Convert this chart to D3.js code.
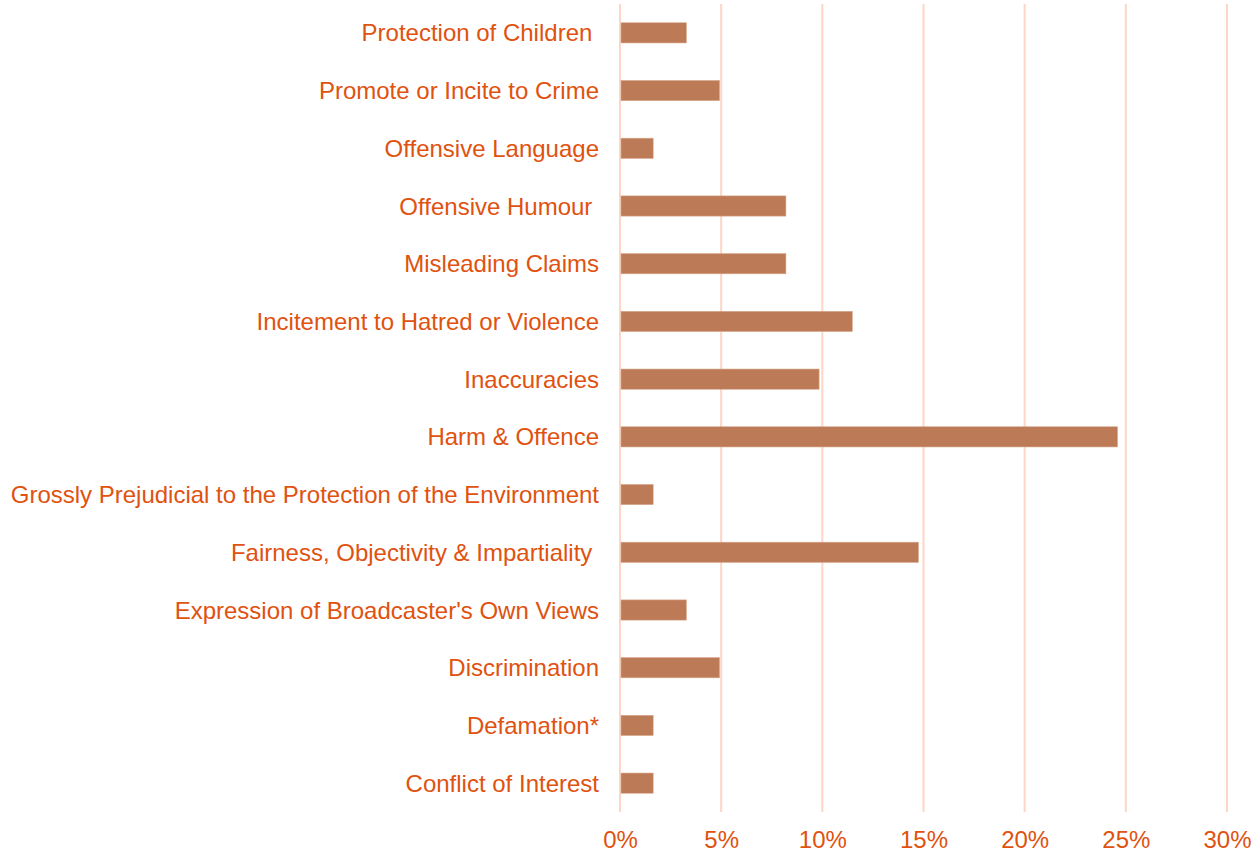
<!DOCTYPE html>
<html>
<head>
<meta charset="utf-8">
<script src="https://cdn.jsdelivr.net/npm/d3@7"></script>
<style>
  html, body { margin: 0; padding: 0; background: #ffffff; }
  svg { display: block; }
  text { font-family: "Liberation Sans", Arial, sans-serif; }
</style>
</head>
<body>
<svg id="chart" width="1253" height="852"></svg>
<script>
// Complaint categories, top to bottom
const categories = [
  "Protection of Children ",
  "Promote or Incite to Crime",
  "Offensive Language",
  "Offensive Humour ",
  "Misleading Claims",
  "Incitement to Hatred or Violence",
  "Inaccuracies",
  "Harm & Offence",
  "Grossly Prejudicial to the Protection of the Environment",
  "Fairness, Objectivity & Impartiality ",
  "Expression of Broadcaster's Own Views",
  "Discrimination",
  "Defamation*",
  "Conflict of Interest"
];

// Share of complaints (%)
const shares = [3.28, 4.92, 1.64, 8.20, 8.20, 11.48, 9.84, 24.59, 1.64, 14.75, 3.28, 4.92, 1.64, 1.64];

// Axis ticks (%)
const tickValues = [0, 5, 10, 15, 20, 25, 30];

const svg = d3.select("#chart");
const margin = { left: 620, right: 26, top: 4, bottom: 40 };
const width = 1253, height = 852;

const x = d3.scaleLinear()
  .domain([0, 30])
  .range([margin.left, width - margin.right]);

const y = d3.scaleBand()
  .domain(categories)
  .range([margin.top, height - margin.bottom])
  .paddingInner(0.65)
  .paddingOuter(0.325);

const textColor = "#e0520f";

// Vertical gridlines
svg.append("g")
  .selectAll("line")
  .data(tickValues)
  .join("line")
  .attr("x1", d => x(d))
  .attr("x2", d => x(d))
  .attr("y1", margin.top)
  .attr("y2", height - margin.bottom)
  .attr("stroke", "#fdd6c6")
  .attr("stroke-width", 2);

// Bars
svg.append("g")
  .selectAll("rect")
  .data(categories)
  .join("rect")
  .attr("x", x(0) + 1)
  .attr("y", d => y(d))
  .attr("width", (d, i) => x(shares[i]) - x(0) - 1)
  .attr("height", y.bandwidth())
  .attr("fill", "#bc7a56")
  .attr("stroke", "#d7a88c")
  .attr("stroke-width", 0.6);

// Category labels
const yAxis = d3.axisLeft(y).tickSize(0).tickPadding(21);
svg.append("g")
  .attr("transform", `translate(${margin.left},0)`)
  .call(yAxis)
  .call(g => g.select(".domain").remove())
  .selectAll("text")
  .attr("fill", textColor)
  .attr("dy", "0.36em")
  .style("font-size", "24px")
  .style("white-space", "pre")
  .attr("xml:space", "preserve");

// Percentage axis
const xAxis = d3.axisBottom(x)
  .tickValues(tickValues)
  .tickFormat(d => d + "%")
  .tickSize(0)
  .tickPadding(19);
svg.append("g")
  .attr("transform", `translate(0,${height - margin.bottom})`)
  .call(xAxis)
  .call(g => g.select(".domain").remove())
  .selectAll("text")
  .attr("fill", textColor)
  .style("font-size", "24px");
</script>
</body>
</html>
